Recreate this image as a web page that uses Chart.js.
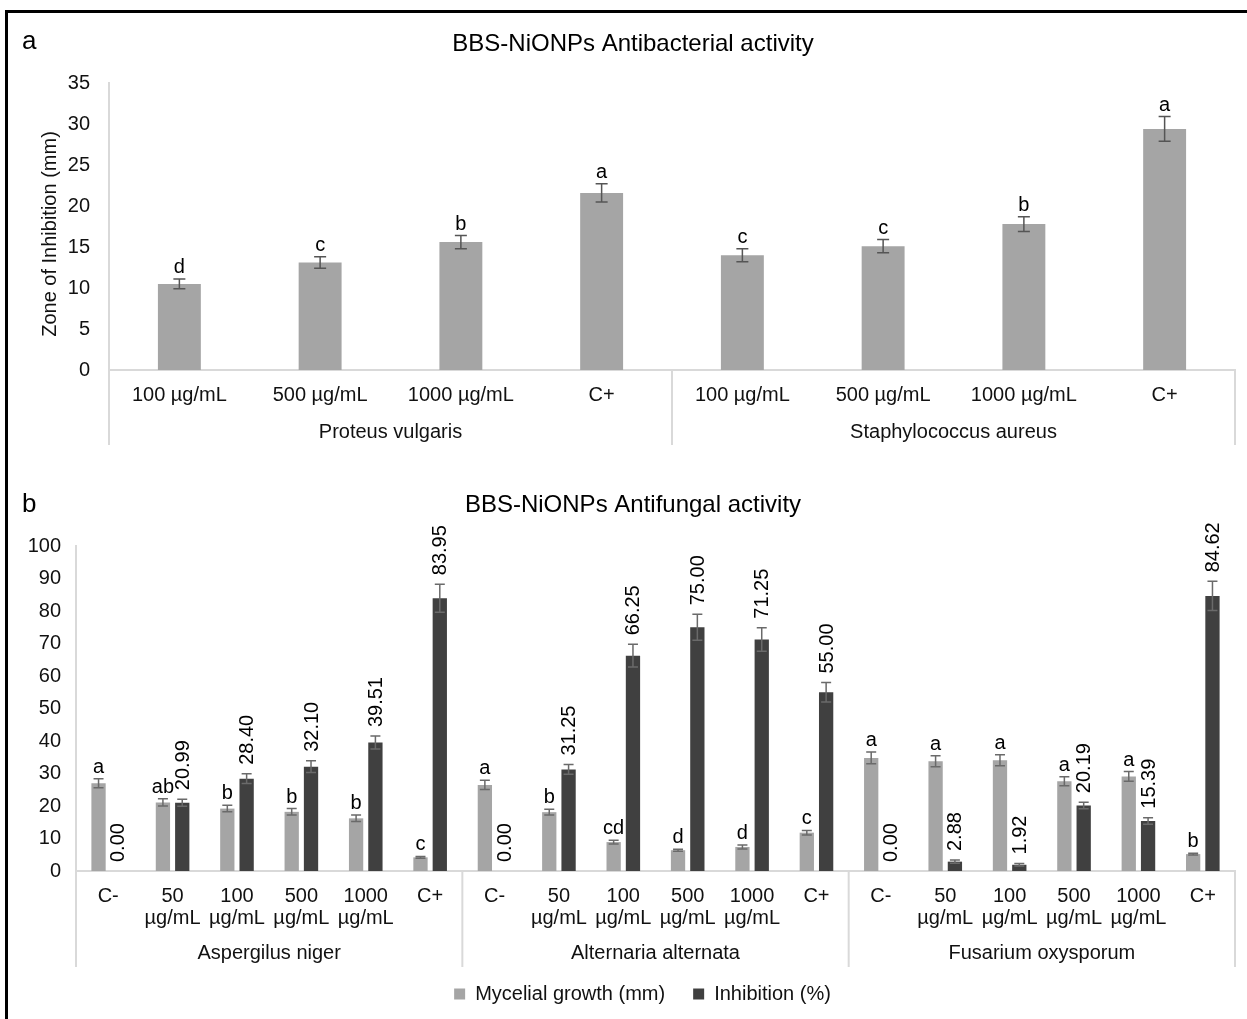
<!DOCTYPE html>
<html>
<head>
<meta charset="utf-8">
<title>BBS-NiONPs antibacterial and antifungal activity</title>
<script src="https://cdn.jsdelivr.net/npm/chart.js@4/dist/chart.umd.min.js"></script>
<style>
  html, body { margin: 0; padding: 0; background: #fff; }
  #fig { position: relative; width: 1247px; height: 1019px; overflow: hidden; background: #fff; }
  #frame { position: absolute; left: 5px; top: 10px; width: 1400px; height: 1200px;
           border-left: 3px solid #000; border-top: 3px solid #000; box-sizing: border-box; }
  canvas { position: absolute; left: 0; }
  #chartA { top: 0; }
  #chartB { top: 460px; }
</style>
</head>
<body>
<div id="fig">
  <div id="frame"></div>
  <canvas id="chartA" width="1247" height="460"></canvas>
  <canvas id="chartB" width="1247" height="559"></canvas>
</div>
<script>
// ---- Panel a: antibacterial activity (zone of inhibition, mm) ----
const bactGroups   = ['Proteus vulgaris', 'Staphylococcus aureus'];
const bactDoses    = ['100 µg/mL', '500 µg/mL', '1000 µg/mL', 'C+'];
const bactZone     = [10.5, 13.1, 15.6, 21.6, 14.0, 15.1, 17.8, 29.4];
const bactZoneErr  = [0.6, 0.7, 0.8, 1.1, 0.8, 0.8, 0.9, 1.5];
const bactLetters  = ['d', 'c', 'b', 'a', 'c', 'c', 'b', 'a'];
const bactTicks    = { min: 0, max: 35, step: 5 };

// ---- Panel b: antifungal activity ----
const fungGroups   = ['Aspergilus niger', 'Alternaria alternata', 'Fusarium oxysporum'];
const fungDoses    = [['C-'], ['50', 'µg/mL'], ['100', 'µg/mL'], ['500', 'µg/mL'], ['1000', 'µg/mL'], ['C+']];
const mycelialGrowth  = [27.0, 21.1, 19.2, 18.2, 16.2, 4.2,
                         26.5, 18.1, 8.9, 6.4, 7.4, 11.8,
                         34.8, 33.8, 34.1, 27.6, 29.1, 5.2];
const mycelialErr     = [1.4, 1.1, 1.0, 1.0, 1.0, 0.3,
                         1.4, 0.9, 0.6, 0.3, 0.6, 0.7,
                         1.8, 1.7, 1.7, 1.4, 1.5, 0.3];
const mycelialLetters = ['a', 'ab', 'b', 'b', 'b', 'c',
                         'a', 'b', 'cd', 'd', 'd', 'c',
                         'a', 'a', 'a', 'a', 'a', 'b'];
const inhibition      = [0.00, 20.99, 28.40, 32.10, 39.51, 83.95,
                         0.00, 31.25, 66.25, 75.00, 71.25, 55.00,
                         0.00, 2.88, 1.92, 20.19, 15.39, 84.62];
const inhibitionErr   = [0, 1.1, 1.5, 1.8, 2.0, 4.3,
                         0, 1.5, 3.5, 4.0, 3.6, 3.0,
                         0, 0.5, 0.4, 1.0, 1.0, 4.5];
const fungTicks    = { min: 0, max: 100, step: 10 };

const seriesNames  = ['Mycelial growth (mm)', 'Inhibition (%)'];
const LIGHT = '#a5a5a5';
const DARK  = '#404040';
const AXIS  = '#d9d9d9';
const FONT  = "'Liberation Sans', Arial, Helvetica, sans-serif";
const TXT   = 20;

Chart.defaults.font.family = FONT;
Chart.defaults.font.size = TXT;
Chart.defaults.color = '#111';

const labelsA = bactGroups.flatMap(() => bactDoses);
const labelsB = fungGroups.flatMap(() => fungDoses);

// Draws error bars, significance letters, value labels, group axis, titles.
const figureDecor = {
  id: 'figureDecor',
  afterLayout(chart, args, o) {
    // legend row is centred on the figure frame rather than the canvas edge
    if (o.legendLeft != null && chart.legend && chart.legend.options.display) {
      chart.legend.left = o.legendLeft;
    }
  },
  afterDatasetsDraw(chart, args, o) {
    const { ctx } = chart;
    const y = chart.scales.y;
    ctx.save();
    chart.data.datasets.forEach((ds, di) => {
      const meta = chart.getDatasetMeta(di);
      meta.data.forEach((bar, i) => {
        const v = ds.data[i];
        const e = ds.errors ? ds.errors[i] : 0;
        const top = y.getPixelForValue(v + e);
        if (e > 0) {
          const bot = y.getPixelForValue(Math.max(0, v - e));
          ctx.strokeStyle = o.errColor;
          ctx.lineWidth = 1.5;
          ctx.beginPath();
          ctx.moveTo(bar.x, top); ctx.lineTo(bar.x, bot);
          ctx.moveTo(bar.x - o.cap, top); ctx.lineTo(bar.x + o.cap, top);
          ctx.moveTo(bar.x - o.cap, bot); ctx.lineTo(bar.x + o.cap, bot);
          ctx.stroke();
        }
        ctx.fillStyle = '#000';
        if (ds.letters) {
          ctx.font = `${TXT}px ${FONT}`;
          ctx.textAlign = 'center';
          ctx.textBaseline = 'alphabetic';
          ctx.fillText(ds.letters[i], bar.x, top - 6);
        }
        if (ds.valueLabels) {
          ctx.save();
          ctx.font = `${TXT}px ${FONT}`;
          ctx.translate(bar.x + 1, top - 9);
          ctx.rotate(-Math.PI / 2);
          ctx.textAlign = 'left';
          ctx.textBaseline = 'middle';
          ctx.fillText(v.toFixed(2), 0, 0);
          ctx.restore();
        }
      });
    });
    ctx.restore();
  },
  afterDraw(chart, args, o) {
    const { ctx, chartArea } = chart;
    const x = chart.scales.x;
    ctx.save();
    // multi-level category axis: group separators and group names
    const n = chart.data.labels.length;
    const g = o.groups.length;
    const per = n / g;
    const step = x.getPixelForTick(1) - x.getPixelForTick(0);
    ctx.strokeStyle = AXIS;
    ctx.lineWidth = 2;
    const edges = [];
    for (let k = 0; k <= g; k++) {
      const px = k === 0 ? x.left : (k === g ? x.right : x.getPixelForTick(k * per) - step / 2);
      edges.push(px);
      ctx.beginPath();
      ctx.moveTo(px, chartArea.bottom);
      ctx.lineTo(px, o.sepBottom);
      ctx.stroke();
    }
    ctx.fillStyle = '#111';
    ctx.font = `${TXT}px ${FONT}`;
    ctx.textAlign = 'center';
    ctx.textBaseline = 'middle';
    o.groups.forEach((name, k) => {
      ctx.fillText(name, (edges[k] + edges[k + 1]) / 2, o.groupY);
    });
    // panel letter and title
    ctx.fillStyle = '#000';
    ctx.textAlign = 'left';
    ctx.font = `26px ${FONT}`;
    ctx.fillText(o.panel, o.panelX, o.panelY);
    ctx.textAlign = 'center';
    ctx.font = `24px ${FONT}`;
    ctx.fillText(o.title, o.titleX, o.titleY);
    if (o.yTitle) {
      ctx.save();
      ctx.translate(o.yTitleX, o.yTitleY);
      ctx.rotate(-Math.PI / 2);
      ctx.font = `20px ${FONT}`;
      ctx.fillStyle = '#111';
      ctx.fillText(o.yTitle, 0, 0);
      ctx.restore();
    }
    ctx.restore();
  }
};

function axisOptions(ticks, yWidth, xHeight, yPad, xPad) {
  return {
    x: {
      grid: { display: false, drawTicks: false },
      border: { display: true, color: AXIS, width: 2 },
      ticks: { autoSkip: false, maxRotation: 0, minRotation: 0, padding: xPad, color: '#111',
               font: { size: TXT, lineHeight: 1.1 } },
      afterFit(scale) { scale.height = xHeight; }
    },
    y: {
      min: ticks.min, max: ticks.max,
      grid: { display: false, drawTicks: false },
      border: { display: true, color: AXIS, width: 2 },
      ticks: { stepSize: ticks.step, padding: yPad, color: '#111', font: { size: TXT } },
      afterFit(scale) { scale.width = yWidth; }
    }
  };
}

new Chart(document.getElementById('chartA'), {
  type: 'bar',
  data: {
    labels: labelsA,
    datasets: [{
      label: 'Zone of Inhibition (mm)',
      data: bactZone,
      errors: bactZoneErr,
      letters: bactLetters,
      backgroundColor: LIGHT,
      borderWidth: 0,
      categoryPercentage: 1.0,
      barPercentage: 0.305
    }]
  },
  options: {
    responsive: false,
    animation: false,
    devicePixelRatio: 1,
    layout: { padding: { left: 4, right: 12, top: 83, bottom: 0 } },
    scales: axisOptions(bactTicks, 105, 90, 19, 14),
    plugins: {
      legend: { display: false },
      tooltip: { enabled: false },
      figureDecor: {
        groups: bactGroups, sepBottom: 445, groupY: 432,
        panel: 'a', panelX: 22, panelY: 42,
        title: 'BBS-NiONPs Antibacterial activity', titleX: 633, titleY: 44,
        yTitle: 'Zone of Inhibition (mm)', yTitleX: 50, yTitleY: 234,
        errColor: '#555', cap: 6
      }
    }
  },
  plugins: [figureDecor]
});

new Chart(document.getElementById('chartB'), {
  type: 'bar',
  data: {
    labels: labelsB,
    datasets: [{
      label: seriesNames[0],
      data: mycelialGrowth,
      errors: mycelialErr,
      letters: mycelialLetters,
      backgroundColor: LIGHT,
      borderWidth: 0,
      categoryPercentage: 0.6,
      barPercentage: 0.74
    }, {
      label: seriesNames[1],
      data: inhibition,
      errors: inhibitionErr,
      valueLabels: true,
      backgroundColor: DARK,
      borderWidth: 0,
      categoryPercentage: 0.6,
      barPercentage: 0.74
    }]
  },
  options: {
    responsive: false,
    animation: false,
    devicePixelRatio: 1,
    layout: { padding: { left: 4, right: 12, top: 86, bottom: 5 } },
    scales: axisOptions(fungTicks, 72, 85, 15, 14),
    plugins: {
      legend: {
        display: true,
        position: 'bottom',
        labels: { boxWidth: 11, boxHeight: 11, padding: 28, color: '#111', font: { size: TXT } }
      },
      tooltip: { enabled: false },
      figureDecor: {
        groups: fungGroups, sepBottom: 507, groupY: 493,
        panel: 'b', panelX: 22, panelY: 45,
        title: 'BBS-NiONPs Antifungal activity', titleX: 633, titleY: 45,
        yTitle: null, legendLeft: 50,
        errColor: '#6a6a6a', cap: 5
      }
    }
  },
  plugins: [figureDecor]
});
</script>
</body>
</html>
